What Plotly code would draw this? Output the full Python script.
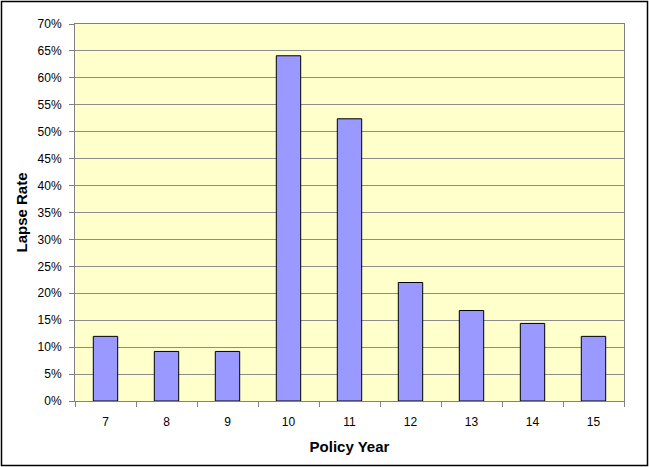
import plotly.graph_objects as go

policy_years = ["7", "8", "9", "10", "11", "12", "13", "14", "15"]
lapse_rates = [0.12, 0.092, 0.092, 0.641, 0.524, 0.22, 0.168, 0.144, 0.12]
y_ticks = [i * 0.05 for i in range(15)]
y_tick_labels = [f"{i*5}%" for i in range(15)]

W, H = 649, 467
ml, mr, mt, mb = 75, 25, 24, 66
pw, ph = W - ml - mr, H - mt - mb

fig = go.Figure(go.Bar(
    x=policy_years, y=lapse_rates,
    marker=dict(color="#9999FF", line=dict(color="#000000", width=1)),
))

fig.update_layout(
    width=W, height=H,
    margin=dict(l=ml, r=mr, t=mt, b=mb),
    paper_bgcolor="white",
    plot_bgcolor="#FFFFCC",
    bargap=0.6,
    showlegend=False,
    font=dict(family="Liberation Sans, Arial, sans-serif", size=12, color="black"),
)
fig.update_xaxes(
    type="category",
    ticks="outside", ticklen=5, tickcolor="#808080", tickson="boundaries",
    ticklabelstandoff=10,
    showline=True, linecolor="#808080", linewidth=1, mirror=True,
    showgrid=False,
    title=dict(text="<b>Policy Year</b>", font=dict(size=15), standoff=13),
)
fig.update_yaxes(
    range=[0, 0.7], tickvals=y_ticks, ticktext=y_tick_labels,
    ticks="outside", ticklen=5, tickcolor="#808080",
    ticklabelstandoff=5,
    showline=True, linecolor="#808080", linewidth=1, mirror=True,
    showgrid=True, gridcolor="#8c8c8c", gridwidth=1,
    zeroline=False,
    title=dict(text="<b>Lapse Rate</b>", font=dict(size=15), standoff=6),
)

# outer border around the whole chart
fig.add_shape(
    type="rect", xref="paper", yref="paper",
    x0=(-ml + 1.5) / pw, x1=1 + (mr - 1.5) / pw,
    y0=(-mb + 1.5) / ph, y1=1 + (mt - 1.5) / ph,
    line=dict(color="black", width=1.5), fillcolor="rgba(0,0,0,0)",
    layer="above",
)

fig.write_html("out.html")
